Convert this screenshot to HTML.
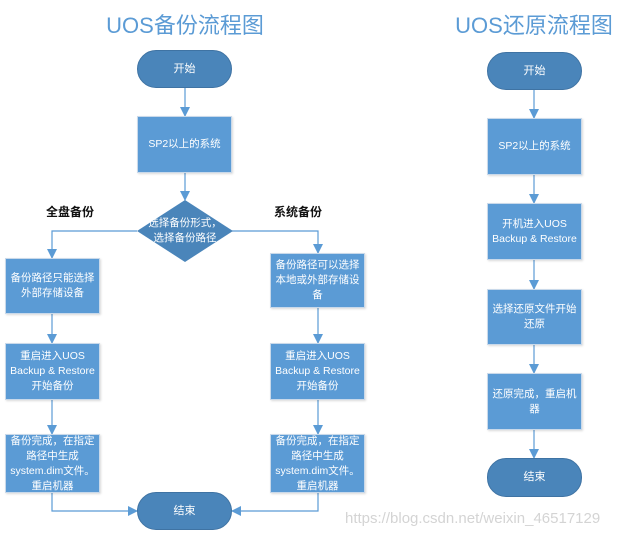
<!DOCTYPE html>
<html><head><meta charset="utf-8"><style>
body{margin:0;width:628px;height:538px;background:#fff;position:relative;overflow:hidden;font-family:"Liberation Sans","Noto Sans CJK SC",sans-serif}
.b{position:absolute;display:flex;align-items:center;justify-content:center;text-align:center;color:#fff;font-size:10.5px;line-height:15px;box-sizing:border-box}
.r{background:#5b9bd5;border:1px solid #c9d9ea;box-shadow:1px 1px 2px rgba(0,0,0,.15)}
.t{background:#4a85ba;border-radius:19px;border:1px solid #3f73a3;font-size:11px}
.title{position:absolute;color:#5b9bd5;font-size:22px;top:8px;text-align:center;white-space:nowrap}
.lab{position:absolute;font-size:12px;font-weight:bold;color:#111}
</style></head><body>
<svg width="628" height="538" style="position:absolute;left:0;top:0">
<defs><marker id="a" markerWidth="10" markerHeight="10" refX="9" refY="5" orient="auto" markerUnits="userSpaceOnUse"><path d="M0,0L10,5L0,10z" fill="#5b9bd5"/></marker></defs>
<g stroke="#5b9bd5" stroke-width="1.2" fill="none" marker-end="url(#a)">
<path d="M185,88V116"/>
<path d="M185,173V200"/>
<path d="M137,231H52V258"/>
<path d="M232,231H318V253"/>
<path d="M52,314V343"/>
<path d="M318,308V343"/>
<path d="M52,400V434"/>
<path d="M318,400V434"/>
<path d="M52,493V511H137"/>
<path d="M318,493V511H232"/>
<path d="M534,90V118"/>
<path d="M534,175V203"/>
<path d="M534,260V289"/>
<path d="M534,345V373"/>
<path d="M534,430V458"/>
</g>
<polygon points="185,200 233,231 185,262 137,231" fill="#4a85ba"/>
</svg>
<div class="title" style="left:105px;width:160px">UOS备份流程图</div>
<div class="title" style="left:453px;width:162px">UOS还原流程图</div>
<div class="b t" style="left:137px;top:50px;width:95px;height:38px">开始</div>
<div class="b r" style="left:137px;top:116px;width:95px;height:57px">SP2以上的系统</div>
<div class="b" style="left:147px;top:208px;width:76px;height:46px">选择备份形式，选择备份路径</div>
<div class="lab" style="left:46px;top:203px">全盘备份</div>
<div class="lab" style="left:274px;top:203px">系统备份</div>
<div class="b r" style="left:5px;top:258px;width:95px;height:56px">备份路径只能选择外部存储设备</div>
<div class="b r" style="left:270px;top:253px;width:95px;height:55px">备份路径可以选择本地或外部存储设备</div>
<div class="b r" style="left:5px;top:343px;width:95px;height:57px">重启进入UOS Backup &amp; Restore开始备份</div>
<div class="b r" style="left:270px;top:343px;width:95px;height:57px">重启进入UOS Backup &amp; Restore开始备份</div>
<div class="b r" style="left:5px;top:434px;width:95px;height:59px;padding:0 3px">备份完成，在指定路径中生成system.dim文件。重启机器</div>
<div class="b r" style="left:270px;top:434px;width:95px;height:59px;padding:0 3px">备份完成，在指定路径中生成system.dim文件。重启机器</div>
<div class="b t" style="left:137px;top:492px;width:95px;height:38px">结束</div>
<div class="b t" style="left:487px;top:52px;width:95px;height:38px">开始</div>
<div class="b r" style="left:487px;top:118px;width:95px;height:57px">SP2以上的系统</div>
<div class="b r" style="left:487px;top:203px;width:95px;height:57px">开机进入UOS Backup &amp; Restore</div>
<div class="b r" style="left:487px;top:289px;width:95px;height:56px;padding:0 4px">选择还原文件开始还原</div>
<div class="b r" style="left:487px;top:373px;width:95px;height:57px;padding:0 4px">还原完成，重启机器</div>
<div class="b t" style="left:487px;top:458px;width:95px;height:39px">结束</div>
<div style="position:absolute;left:345px;top:510px;font-size:15px;color:#d4d4d4;white-space:nowrap">https://blog.csdn.net/weixin_46517129</div>
</body></html>
